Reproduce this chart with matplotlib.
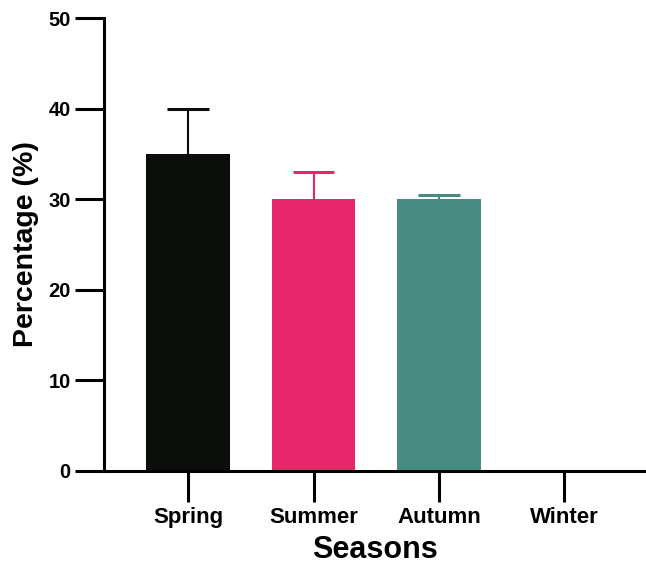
import numpy as np
import matplotlib.pyplot as plt

plt.rcParams['font.family'] = ['Liberation Sans', 'DejaVu Sans']
plt.rcParams['font.weight'] = 'bold'

# seasonal percentages with upper error (SD)
seasons = ['Spring', 'Summer', 'Autumn', 'Winter']
percent = [35, 30, 30, 0]
err = [5, 3, 0.5, 0]
colors = ['#0c0e0b', '#e8276a', '#468c82', '#ffffff']

fig = plt.figure(figsize=(6.46, 5.71), dpi=100)
ax = fig.add_axes([104/646, 100/571, 1 - 104/646, 453/571])

x = np.arange(len(seasons))
ax.bar(x, percent, width=0.665, color=colors, zorder=2)

# upper-only error bars: stem plus cap
cap = 0.165
for xi, p, e, c in zip(x, percent, err, colors):
    if e > 0:
        ax.vlines(xi, p, p + e, color=c, linewidth=1.5, zorder=3)
        ax.hlines(p + e, xi - cap, xi + cap, color=c, linewidth=2.2, zorder=3)

ax.set_xlim(-0.67, 3.65)
ax.set_ylim(0, 50)
ax.set_yticks([0, 10, 20, 30, 40, 50])
ax.set_xticks(x)
ax.set_xticklabels(seasons)

for s in ['top', 'right']:
    ax.spines[s].set_visible(False)
for s in ['left', 'bottom']:
    ax.spines[s].set_linewidth(2.2)
    ax.spines[s].set_color('black')
ax.spines['bottom'].set_zorder(4)

ax.tick_params(axis='y', length=21, width=2.2, labelsize=14.5, pad=3)
ax.tick_params(axis='x', length=22, width=2.2, labelsize=16, pad=4)
for lab in ax.get_xticklabels() + ax.get_yticklabels():
    lab.set_fontweight('bold')

ax.set_ylabel('Percentage (%)', fontsize=20.5, fontweight='bold', labelpad=7)
ax.set_xlabel('Seasons', fontsize=22, fontweight='bold', labelpad=5)

fig.savefig('out.png', dpi=100)
